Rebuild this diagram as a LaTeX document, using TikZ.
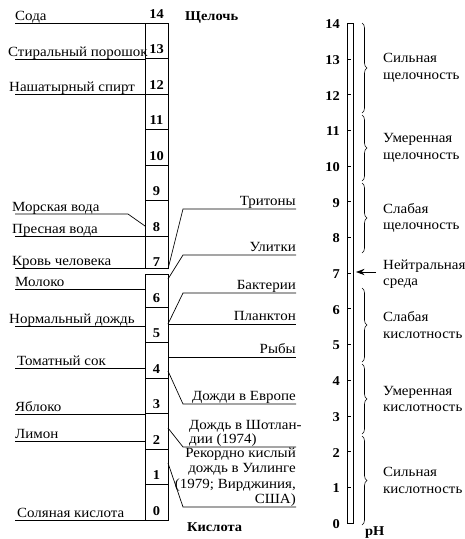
\documentclass[tikz,border=0pt]{standalone}
\usepackage{fontspec}
\setmainfont{Liberation Serif}[FakeStretch=1.07]
\usetikzlibrary{arrows.meta,decorations.pathreplacing}

\begin{document}
\begin{tikzpicture}[x=1pt,y=-1pt,
  lbl/.style={font=\fontsize{14}{16.5}\selectfont,inner sep=0pt},
  num/.style={font=\fontsize{13.5}{16}\selectfont\bfseries,inner sep=0pt,anchor=base},
  ln/.style={line width=0.7pt},
  cell/.style={draw,line width=0.8pt},
  brc/.style={decorate,decoration={brace,amplitude=5pt},line width=0.6pt},
  arr/.style={-{Stealth[length=3mm,width=2.2mm]},line width=0.7pt}]
\useasboundingbox (0,0) rectangle (465,539);

% left scale
\draw[cell] (145,23) rectangle (168,268);
\draw[cell] (145,274) rectangle (168,520);
\foreach \k in {1,2,3,4,5,6,8,9,10,11,12,13}
  \draw[cell] (145,{520-35.5*\k}) -- (168,{520-35.5*\k});
\foreach \k in {0,...,14}
  \node[num] (n\k) at (156.5,{520-35.5*\k-5}) {\k};
\node[num,anchor=base west] (alk) at (185,20) {Щелочь};
\node[num,anchor=base west] (acid) at (187,531) {Кислота};

% substances (left)
\foreach \yy/\tx/\txt [count=\i] in {23/15/Сода, 59/8/{Стиральный порошок},
    94/9/{Нашатырный спирт}, 236/12/{Пресная вода}, 268/12/{Кровь человека},
    289/15/Молоко, 326/9/{Нормальный дождь}, 368/17/{Томатный сок},
    414/15/Яблоко, 441/15/Лимон, 520/17/{Соляная кислота}} {
  \node[lbl,anchor=base west] (s\i) at (\tx,\yy-3) {\txt};
  \coordinate (sa\i) at (15,\yy);
  \coordinate (sb\i) at (145,\yy);
  \draw[ln] (sa\i) -- (sb\i);
}
\node[lbl,anchor=base west] (sea) at (12,211) {Морская вода};
\coordinate (seaa) at (15,214);
\coordinate (seak) at (128,214);
\coordinate (seab) at (145,226);
\draw[ln] (seaa) -- (seak) -- (seab);

% organisms and rains (right)
\foreach \cy/\kx/\ky/\txt [count=\i] in {269/183/209/Тритоны, 279/183/255/Улитки,
    324/183/293/Бактерии, 324/168/324/Планктон, 357/168/357/Рыбы,
    371/183/404/{Дожди в Европе}} {
  \coordinate (c\i) at (168,\cy);
  \coordinate (k\i) at (\kx,\ky);
  \coordinate (e\i) at (296,\ky);
  \draw[ln] (c\i) -- (k\i) -- (e\i);
  \node[lbl,anchor=base east] (o\i) at (296,\ky-4) {\txt};
}
\coordinate (scc) at (168,428);
\coordinate (sck) at (183,447);
\coordinate (sce) at (296,447);
\draw[ln] (scc) -- (sck) -- (sce);
\node[lbl,anchor=base west] (scot) at (189,443) {дии (1974)};
\node[lbl,anchor=base west] (scot1) at (189,429) {Дождь в Шотлан-};
\coordinate (whc) at (168,463);
\coordinate (whk) at (183,507);
\coordinate (whe) at (296,507);
\draw[ln] (whc) -- (whk) -- (whe);
\node[lbl,align=right,anchor=south east,font=\fontsize{14}{15.5}\selectfont] (whee) at (296,507)
  {Рекордно кислый\\дождь в Уилинге\\(1979; Вирджиния,\\США)};

% pH ruler
\draw[cell] (347,23) rectangle (353,523);
\foreach \k in {1,...,13}
  \draw[ln] (347,{523-35.7*\k}) -- (351,{523-35.7*\k});
\foreach \k in {0,...,14}
  \node[num,anchor=east] (r\k) at (340,{523-35.7*\k+1}) {\k};
\node[num,anchor=base west] (ph) at (365,535) {pH};

% ranges
\foreach \ya/\yb/\txt [count=\i] in {23/113/{Сильная\\щелочность},
    115/181/{Умеренная\\щелочность}, 183/253/{Слабая\\щелочность},
    288/362/{Слабая\\кислотность}, 364/434/{Умеренная\\кислотность},
    436/525/{Сильная\\кислотность}} {
  \coordinate (ba\i) at (362,\ya);
  \coordinate (bb\i) at (362,\yb);
  \draw[brc] (ba\i) -- (bb\i);
  \node[lbl,align=left,anchor=west] (t\i) at (383,{(\ya+\yb)/2}) {\txt};
}
\node[lbl,align=left,anchor=west] (neut) at (383,274) {Нейтральная\\среда};
\coordinate (neutpt) at (356,272);
\coordinate (neutst) at (376,272);
\draw[arr] (neutst) -- (neutpt);
\end{tikzpicture}
\end{document}
